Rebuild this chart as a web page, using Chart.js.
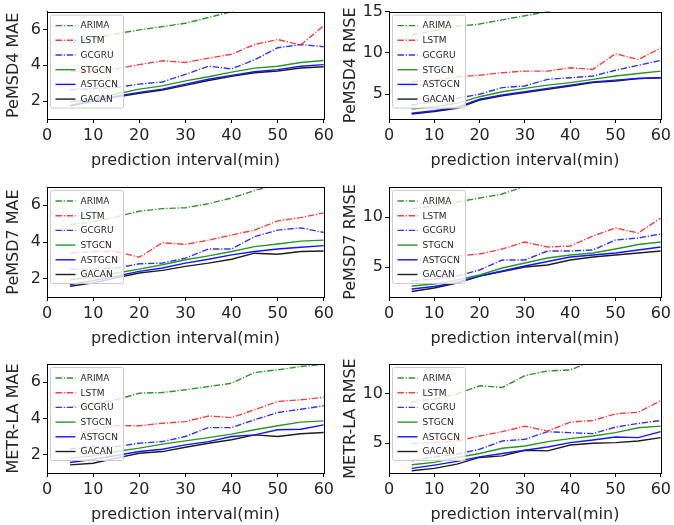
<!DOCTYPE html>
<html>
<head>
<meta charset="utf-8">
<script src="https://cdn.jsdelivr.net/npm/chart.js@4/dist/chart.umd.min.js"></script>
<style>
  body { margin: 0; background: #fff; width: 674px; height: 525px; overflow: hidden; position: relative; }
  canvas { position: absolute; }
</style>
</head>
<body>
<canvas id="c1" width="337" height="175" style="left:0;top:0"></canvas>
<canvas id="c2" width="337" height="175" style="left:337px;top:0"></canvas>
<canvas id="c3" width="337" height="175" style="left:0;top:175px"></canvas>
<canvas id="c4" width="337" height="175" style="left:337px;top:175px"></canvas>
<canvas id="c5" width="337" height="175" style="left:0;top:350px"></canvas>
<canvas id="c6" width="337" height="175" style="left:337px;top:350px"></canvas>
<script>
// prediction intervals (min)
const intervals = [5, 10, 15, 20, 25, 30, 35, 40, 45, 50, 55, 60];
const models = ['ARIMA', 'LSTM', 'GCGRU', 'STGCN', 'ASTGCN', 'GACAN'];
const xTicks = [0, 10, 20, 30, 40, 50, 60];
const maeTicks = [2, 4, 6];
const rmseTicksPems4 = [5, 10, 15];
const rmseTicks = [5, 10];

// PeMSD4 MAE
const pems4MaeArima  = [5.25, 5.5, 5.76, 5.98, 6.16, 6.35, 6.67, 7.0, 7.4, 7.7, 8.0, 8.3];
const pems4MaeLstm   = [3.67, 3.67, 3.8, 4.04, 4.25, 4.16, 4.4, 4.62, 5.16, 5.44, 5.13, 6.22];
const pems4MaeGcgru  = [2.64, 2.7, 2.76, 2.95, 3.07, 3.49, 3.95, 3.8, 4.31, 4.98, 5.16, 5.04];
const pems4MaeStgcn  = [1.95, 2.13, 2.4, 2.67, 2.85, 3.13, 3.36, 3.62, 3.84, 3.95, 4.16, 4.27];
const pems4MaeAstgcn = [1.76, 2.04, 2.27, 2.49, 2.67, 2.95, 3.22, 3.44, 3.64, 3.76, 3.95, 4.04];
const pems4MaeGacan  = [1.72, 2.0, 2.22, 2.44, 2.62, 2.88, 3.15, 3.38, 3.58, 3.68, 3.85, 3.92];

// PeMSD4 RMSE
const pems4RmseArima  = [12.2, 12.7, 13.2, 13.5, 14.0, 14.5, 15.0, 15.6, 16.2, 16.8, 17.2, 17.8];
const pems4RmseLstm   = [6.5, 6.7, 7.1, 7.3, 7.6, 7.8, 7.8, 8.2, 8.0, 9.9, 9.2, 10.6];
const pems4RmseGcgru  = [3.7, 4.1, 4.5, 5.0, 5.8, 6.0, 6.8, 7.0, 7.2, 7.9, 8.5, 9.1];
const pems4RmseStgcn  = [3.2, 3.5, 3.9, 4.7, 5.3, 5.7, 6.1, 6.4, 6.8, 7.2, 7.5, 7.8];
const pems4RmseAstgcn = [2.7, 3.0, 3.4, 4.4, 4.9, 5.3, 5.7, 6.1, 6.5, 6.7, 6.9, 7.0];
const pems4RmseGacan  = [2.6, 2.9, 3.3, 4.3, 4.8, 5.2, 5.6, 6.0, 6.4, 6.6, 6.9, 7.0];

// PeMSD7 MAE
const pems7MaeArima  = [4.95, 5.1, 5.37, 5.68, 5.82, 5.87, 6.09, 6.4, 6.81, 7.15, 7.4, 7.6];
const pems7MaeLstm   = [3.39, 3.48, 3.48, 3.17, 3.96, 3.87, 4.1, 4.38, 4.65, 5.15, 5.33, 5.59];
const pems7MaeGcgru  = [2.52, 2.52, 2.58, 2.81, 2.85, 3.12, 3.62, 3.62, 4.29, 4.65, 4.77, 4.52];
const pems7MaeStgcn  = [1.95, 2.09, 2.31, 2.52, 2.76, 3.03, 3.24, 3.48, 3.75, 3.89, 4.05, 4.1];
const pems7MaeAstgcn = [1.68, 1.89, 2.13, 2.4, 2.58, 2.85, 3.06, 3.3, 3.48, 3.62, 3.71, 3.8];
const pems7MaeGacan  = [1.59, 1.77, 2.04, 2.31, 2.45, 2.67, 2.85, 3.06, 3.39, 3.33, 3.48, 3.51];

// PeMSD7 RMSE
const pems7RmseArima  = [10.8, 11.1, 11.5, 11.9, 12.3, 13.05, 13.6, 14.1, 14.6, 15.2, 15.6, 16.2];
const pems7RmseLstm   = [5.7, 6.0, 6.1, 6.3, 6.8, 7.5, 7.0, 7.1, 8.1, 8.9, 8.4, 9.9];
const pems7RmseGcgru  = [3.6, 3.8, 4.1, 4.7, 5.7, 5.7, 6.6, 6.6, 6.7, 7.7, 7.9, 8.3];
const pems7RmseStgcn  = [3.1, 3.3, 3.7, 4.2, 4.9, 5.4, 5.9, 6.2, 6.4, 6.8, 7.25, 7.5];
const pems7RmseAstgcn = [2.8, 3.05, 3.45, 4.1, 4.6, 5.1, 5.55, 6.0, 6.2, 6.4, 6.7, 7.0];
const pems7RmseGacan  = [2.55, 2.9, 3.4, 4.1, 4.55, 5.0, 5.2, 5.7, 6.0, 6.2, 6.4, 6.6];

// METR-LA MAE
const metrMaeArima  = [4.66, 4.79, 5.03, 5.39, 5.43, 5.58, 5.76, 5.94, 6.53, 6.68, 6.86, 6.99];
const metrMaeLstm   = [3.1, 3.38, 3.61, 3.6, 3.74, 3.83, 4.14, 4.05, 4.48, 4.94, 5.03, 5.17];
const metrMaeGcgru  = [2.33, 2.46, 2.46, 2.64, 2.73, 3.01, 3.5, 3.5, 3.93, 4.33, 4.51, 4.7];
const metrMaeStgcn  = [1.82, 1.94, 2.18, 2.37, 2.59, 2.77, 2.95, 3.14, 3.38, 3.6, 3.8, 3.87];
const metrMaeAstgcn = [1.58, 1.76, 1.96, 2.18, 2.31, 2.55, 2.73, 3.01, 3.1, 3.38, 3.41, 3.65];
const metrMaeGacan  = [1.45, 1.54, 1.82, 2.09, 2.18, 2.42, 2.64, 2.83, 3.1, 3.01, 3.16, 3.23];

// METR-LA RMSE
const metrRmseArima  = [9.17, 9.47, 9.97, 10.8, 10.63, 11.83, 12.3, 12.4, 13.3, 13.8, 14.3, 14.9];
const metrRmseLstm   = [4.97, 5.07, 5.23, 5.73, 6.17, 6.73, 6.23, 7.13, 7.3, 7.97, 8.13, 9.3];
const metrRmseGcgru  = [3.23, 3.63, 3.9, 4.4, 5.23, 5.4, 6.17, 6.07, 5.97, 6.63, 7.0, 7.3];
const metrRmseStgcn  = [2.83, 3.07, 3.57, 3.97, 4.5, 4.73, 5.17, 5.47, 5.73, 6.07, 6.57, 6.73];
const metrRmseAstgcn = [2.47, 2.8, 3.17, 3.63, 3.97, 4.3, 4.63, 5.07, 5.33, 5.63, 5.57, 6.17];
const metrRmseGacan  = [2.23, 2.47, 2.9, 3.57, 3.73, 4.3, 4.23, 4.83, 5.0, 5.07, 5.23, 5.57];

const styles = [
  { color: 'rgb(40,150,40)', dash: [6.4, 1.8, 1.2, 1.8] },
  { color: 'rgb(255,60,60)', dash: [6.4, 1.8, 1.2, 1.8] },
  { color: 'rgb(50,50,255)', dash: [6.4, 1.8, 1.2, 1.8] },
  { color: 'rgb(40,150,40)', dash: [] },
  { color: 'rgb(20,20,255)', dash: [] },
  { color: 'rgb(30,30,30)', dash: [] }
];

const textColor = '#262626';
const axisFont = { family: 'DejaVu Sans', size: 16 };

// matplotlib style legend box inside the axes + top/right spines
const boxLegend = {
  id: 'boxLegend',
  afterDatasetsDraw(chart) {
    const { ctx, chartArea } = chart;
    ctx.save();
    ctx.strokeStyle = '#000';
    ctx.lineWidth = 1;
    ctx.strokeRect(Math.round(chartArea.left) + 0.5, Math.round(chartArea.top) + 0.5,
      Math.round(chartArea.right - chartArea.left), Math.round(chartArea.bottom - chartArea.top));

    const x0 = chartArea.left + 3.5, y0 = chartArea.top + 3.5, w = 73, h = 93;
    ctx.beginPath();
    ctx.roundRect(x0, y0, w, h, 2);
    ctx.fillStyle = 'rgba(255,255,255,0.8)';
    ctx.fill();
    ctx.strokeStyle = '#cccccc';
    ctx.stroke();

    ctx.font = '9px "DejaVu Sans"';
    ctx.textBaseline = 'middle';
    chart.data.datasets.forEach((ds, i) => {
      const y = y0 + 10.5 + i * 14.7;
      ctx.beginPath();
      ctx.setLineDash(ds.borderDash || []);
      ctx.strokeStyle = ds.borderColor;
      ctx.lineWidth = ds.borderWidth;
      ctx.moveTo(x0 + 5, y);
      ctx.lineTo(x0 + 25, y);
      ctx.stroke();
      ctx.setLineDash([]);
      ctx.fillStyle = textColor;
      ctx.fillText(ds.label, x0 + 30, y + 0.5);
    });
    ctx.restore();
  }
};

function makePanel(id, title, series, yMin, yMax, yTicks, isLeft, padTop, padBottom) {
  const datasets = series.map((vals, i) => ({
    label: models[i],
    data: intervals.map((x, j) => ({ x: x, y: vals[j] })),
    borderColor: styles[i].color,
    borderDash: styles[i].dash,
    borderWidth: 1.4,
    pointRadius: 0,
    tension: 0,
    fill: false
  }));
  const yWidth = isLeft ? 47 : 52;
  return new Chart(document.getElementById(id), {
    type: 'line',
    data: { datasets: datasets },
    options: {
      responsive: false,
      animation: false,
      layout: { padding: { left: 0, right: isLeft ? 7 : 3, top: padTop, bottom: padBottom } },
      plugins: { legend: { display: false }, tooltip: { enabled: false } },
      scales: {
        x: {
          type: 'linear',
          min: 0,
          max: 60,
          afterBuildTicks: (s) => { s.ticks = xTicks.map(v => ({ value: v })); },
          afterFit: (s) => { s.height = 51; },
          grid: { display: true, drawOnChartArea: false, drawTicks: true, tickLength: 4, color: '#000' },
          border: { display: true, color: '#000', width: 1 },
          ticks: { color: textColor, font: axisFont, padding: 3, maxRotation: 0 },
          title: { display: true, text: 'prediction interval(min)', color: textColor, font: axisFont, padding: { top: 0, bottom: 0 } }
        },
        y: {
          min: yMin,
          max: yMax,
          afterBuildTicks: (s) => { s.ticks = yTicks.map(v => ({ value: v })); },
          afterFit: (s) => { s.width = yWidth; },
          grid: { display: true, drawOnChartArea: false, drawTicks: true, tickLength: 4, color: '#000' },
          border: { display: true, color: '#000', width: 1 },
          ticks: { color: textColor, font: axisFont, padding: 2 },
          title: { display: true, text: title, color: textColor, font: axisFont, padding: { top: 4.5, bottom: 0 } }
        }
      }
    },
    plugins: [boxLegend]
  });
}

makePanel('c1', 'PeMSD4 MAE',
  [pems4MaeArima, pems4MaeLstm, pems4MaeGcgru, pems4MaeStgcn, pems4MaeAstgcn, pems4MaeGacan],
  1, 7, maeTicks, true, 11, 5);
makePanel('c2', 'PeMSD4 RMSE',
  [pems4RmseArima, pems4RmseLstm, pems4RmseGcgru, pems4RmseStgcn, pems4RmseAstgcn, pems4RmseGacan],
  2, 15, rmseTicksPems4, false, 11, 5);
makePanel('c3', 'PeMSD7 MAE',
  [pems7MaeArima, pems7MaeLstm, pems7MaeGcgru, pems7MaeStgcn, pems7MaeAstgcn, pems7MaeGacan],
  1, 7, maeTicks, true, 12, 2);
makePanel('c4', 'PeMSD7 RMSE',
  [pems7RmseArima, pems7RmseLstm, pems7RmseGcgru, pems7RmseStgcn, pems7RmseAstgcn, pems7RmseGacan],
  2, 13, rmseTicks, false, 12, 2);
makePanel('c5', 'METR-LA MAE',
  [metrMaeArima, metrMaeLstm, metrMaeGcgru, metrMaeStgcn, metrMaeAstgcn, metrMaeGacan],
  1, 7, maeTicks, true, 14, 1);
makePanel('c6', 'METR-LA RMSE',
  [metrRmseArima, metrRmseLstm, metrRmseGcgru, metrRmseStgcn, metrRmseAstgcn, metrRmseGacan],
  2, 13, rmseTicks, false, 14, 1);
</script>
</body>
</html>
